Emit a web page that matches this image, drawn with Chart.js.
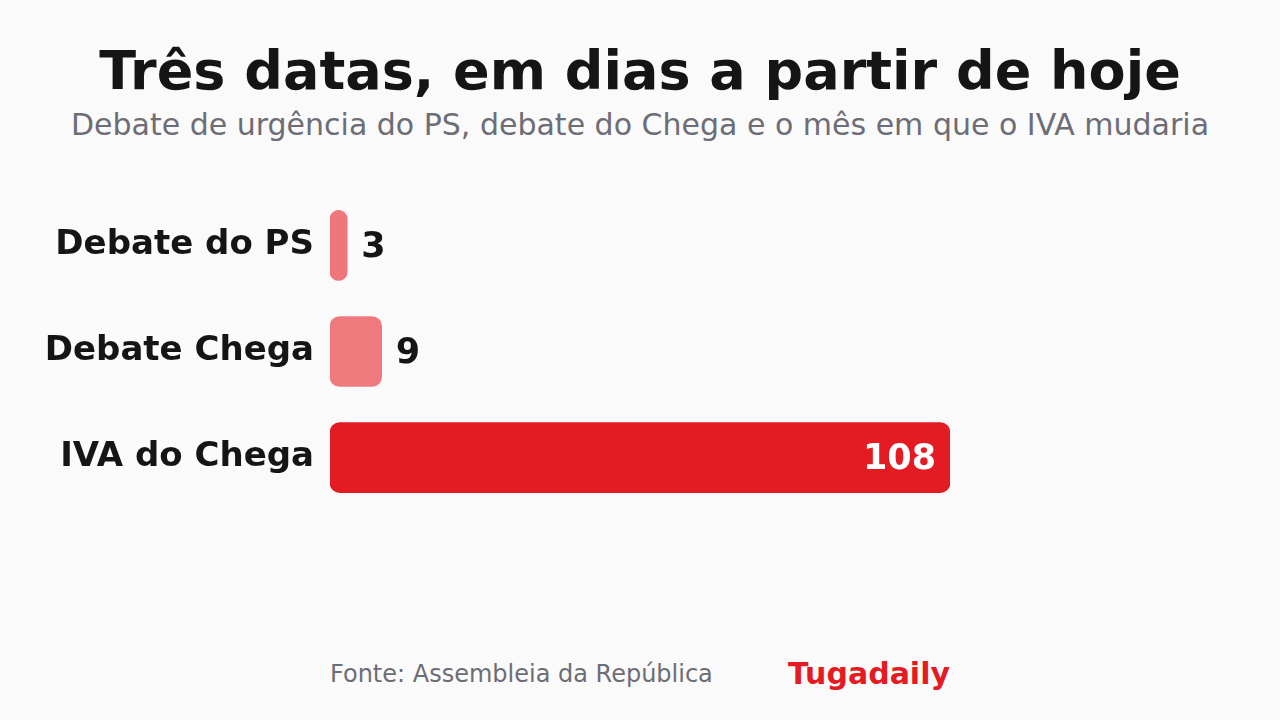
<!DOCTYPE html>
<html><head><meta charset="utf-8">
<script src="https://cdn.jsdelivr.net/npm/chart.js@4"></script>
<style>
body{margin:0;width:1280px;height:720px;background:#fafafa;font-family:"DejaVu Sans",sans-serif;position:relative;overflow:hidden}
#t{position:absolute;top:39px;left:0;width:1280px;text-align:center;font-size:54px;font-weight:bold;color:#151518}
#s{position:absolute;top:107px;left:0;width:1280px;text-align:center;font-size:30px;color:#6d6d75}
#f1{position:absolute;top:660px;left:330px;font-size:24px;color:#6d6d75}
#f2{position:absolute;top:656px;left:650px;width:300px;text-align:right;font-size:30px;font-weight:bold;color:#e51b23}
#w{position:absolute;left:0;top:164px;width:950px;height:375px}
</style></head><body>
<div id="t">Três datas, em dias a partir de hoje</div>
<div id="s">Debate de urgência do PS, debate do Chega e o mês em que o IVA mudaria</div>
<div id="w"><canvas id="c"></canvas></div>
<div id="f1">Fonte: Assembleia da República</div>
<div id="f2">Tugadaily</div>
<script>
const categories=["Debate do PS","Debate Chega","IVA do Chega"];
const values=[3,9,108];
const colors=["#ef767a","#ef7a7e","#e51b23"];
const valLabels={id:'vl',afterDatasetsDraw(ch){const ctx=ch.ctx;const m=ch.getDatasetMeta(0);ctx.save();ctx.font='bold 35px "DejaVu Sans"';ctx.textBaseline='middle';
m.data.forEach((b,i)=>{if(values[i]>50){ctx.fillStyle='#fff';ctx.textAlign='right';ctx.fillText(values[i],b.x-14,b.y+2);}else{ctx.fillStyle='#151518';ctx.textAlign='left';ctx.fillText(values[i],b.x+14,b.y+2);}});ctx.restore();}};
new Chart(document.getElementById('c'),{type:'bar',data:{labels:categories,datasets:[{data:values,backgroundColor:colors,borderRadius:10,borderSkipped:false,barThickness:70}]},
options:{indexAxis:'y',responsive:true,maintainAspectRatio:false,animation:false,layout:{padding:0},
plugins:{legend:{display:false},tooltip:{enabled:false}},
scales:{x:{display:false,min:0,max:108},y:{grid:{display:false},border:{display:false},
afterFit(a){a.width=330;},ticks:{padding:8,color:'#151518',font:{family:'DejaVu Sans',size:34,weight:'bold'}}}}},plugins:[valLabels]});
</script></body></html>
